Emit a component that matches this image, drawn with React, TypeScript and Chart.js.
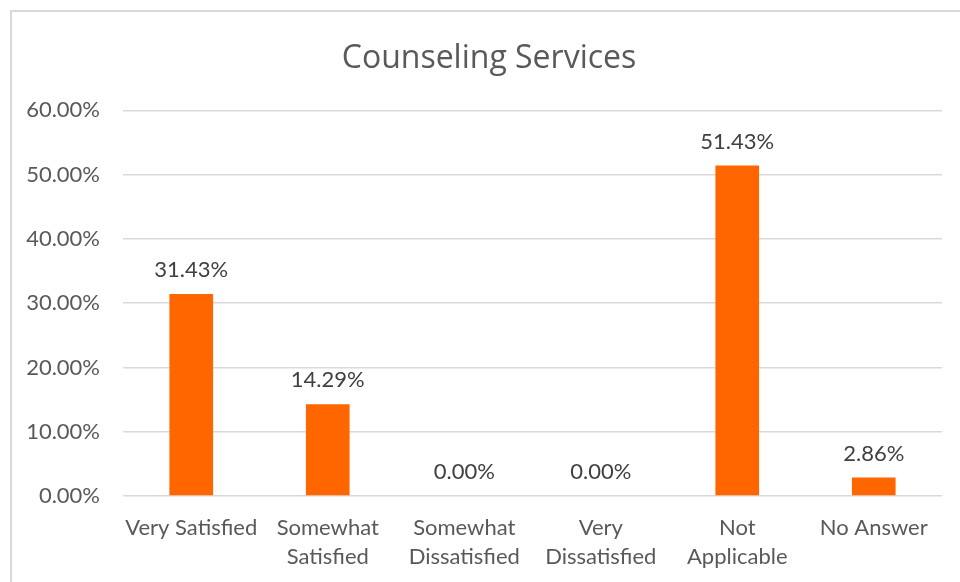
import React, { useEffect, useRef } from "react";
import { Chart, registerables } from "chart.js";

Chart.register(...registerables);

const chartTitle = "Counseling Services";
const categories: (string | string[])[] = [
  "Very Satisfied",
  ["Somewhat", "Satisfied"],
  ["Somewhat", "Dissatisfied"],
  ["Very", "Dissatisfied"],
  ["Not", "Applicable"],
  "No Answer",
];
const percentages = [31.43, 14.29, 0.0, 0.0, 51.43, 2.86];
const yMin = 0;
const yMax = 60;
const yStep = 10;

const FONT = "Lato, 'Open Sans', sans-serif";
const TITLE_FONT = "'Open Sans', Lato, sans-serif";
const TITLE_SIZE = 32;

const dataLabelPlugin = {
  id: "dataLabels",
  afterDatasetsDraw(chart: any) {
    const ctx = chart.ctx;
    const meta = chart.getDatasetMeta(0);
    ctx.save();
    ctx.font = `22px ${FONT}`;
    ctx.fillStyle = "#404040";
    ctx.textAlign = "center";
    ctx.textBaseline = "middle";
    meta.data.forEach((el: any, i: number) => {
      const v = chart.data.datasets[0].data[i] as number;
      ctx.fillText(v.toFixed(2) + "%", el.x, el.y - 24);
    });
    ctx.restore();
  },
};

// Title centred on the whole chart frame (which extends past the canvas right edge)
const frameTitlePlugin = {
  id: "frameTitle",
  afterDraw(chart: any) {
    const ctx = chart.ctx;
    const tb = chart.titleBlock;
    const y = tb.top + tb.options.padding.top + (TITLE_SIZE * 1.2) / 2 + 2;
    ctx.save();
    ctx.font = `${TITLE_SIZE}px ${TITLE_FONT}`;
    ctx.fillStyle = "#595959";
    ctx.textAlign = "center";
    ctx.textBaseline = "middle";
    ctx.fillText(chartTitle, 489, y);
    ctx.restore();
  },
};

export default function App() {
  const canvasRef = useRef<HTMLCanvasElement | null>(null);

  useEffect(() => {
    if (!canvasRef.current) return;
    const chart = new Chart(canvasRef.current, {
      type: "bar",
      data: {
        labels: categories,
        datasets: [
          {
            data: percentages,
            backgroundColor: "#FF6600",
            borderWidth: 0,
            categoryPercentage: 1,
            barPercentage: 0.32,
          },
        ],
      },
      options: {
        animation: false,
        responsive: false,
        maintainAspectRatio: false,
        layout: { padding: { left: 0, right: 18, top: 0, bottom: 0 } },
        plugins: {
          legend: { display: false },
          tooltip: { enabled: false },
          title: {
            display: true,
            text: chartTitle,
            color: "rgba(0,0,0,0)",
            font: { family: TITLE_FONT, size: TITLE_SIZE, weight: "normal", lineHeight: 1.2 },
            padding: { top: 38, bottom: 34 },
          },
        },
        scales: {
          x: {
            afterFit: (scale: any) => {
              scale.height = 86;
            },
            grid: { display: false, drawTicks: false },
            border: { display: false },
            ticks: {
              color: "#595959",
              font: { family: FONT, size: 22, lineHeight: 1.32 },
              padding: 17,
              maxRotation: 0,
              autoSkip: false,
            },
          },
          y: {
            min: yMin,
            max: yMax,
            afterFit: (scale: any) => {
              scale.width = 123;
            },
            grid: { color: "#d9d9d9", lineWidth: 1.5, drawTicks: false },
            border: { display: false },
            ticks: {
              stepSize: yStep,
              color: "#595959",
              font: { family: FONT, size: 22 },
              padding: 23,
              callback: (v: any) => Number(v).toFixed(2) + "%",
            },
          },
        },
      },
      plugins: [dataLabelPlugin, frameTitlePlugin],
    });
    return () => chart.destroy();
  }, []);

  return (
    <div
      style={{
        position: "absolute",
        left: 0,
        top: 0,
        width: 960,
        height: 582,
        overflow: "hidden",
        background: "#ffffff",
      }}
    >
      <div
        style={{
          position: "absolute",
          left: 10,
          top: 10,
          width: 1000,
          height: 700,
          border: "2px solid #d9d9d9",
          boxSizing: "border-box",
        }}
      />
      <canvas
        ref={canvasRef}
        width={960}
        height={582}
        style={{ position: "absolute", left: 0, top: 0, width: 960, height: 582 }}
      />
    </div>
  );
}
